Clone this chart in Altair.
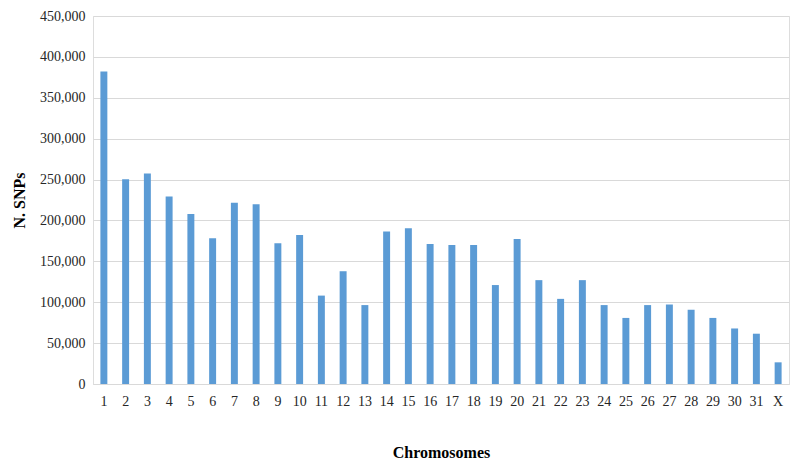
import altair as alt
import pandas as pd

chromosomes = [str(i) for i in range(1, 32)] + ["X"]
snps = [382000, 250500, 257300, 229200, 207900, 178100, 221500, 219900, 172000, 182200,
        108100, 137900, 96500, 186500, 190600, 171300, 170100, 170100, 121000, 177300,
        127000, 104100, 127000, 96500, 80800, 96500, 97200, 90800, 80800, 67900,
        61500, 26500]

df = pd.DataFrame({"chrom": chromosomes, "snps": snps})

font = "Liberation Serif"

chart = alt.Chart(df).mark_bar(color="#5B9BD5").encode(
    x=alt.X("chrom:N", sort=chromosomes,
            scale=alt.Scale(paddingInner=0.68, paddingOuter=0.34),
            axis=alt.Axis(title="Chromosomes", labelAngle=0, ticks=False,
                          domainColor="#D9D9D9", labelPadding=10, titlePadding=36,
                          labelFontSize=14, titleFontSize=16, labelFont=font,
                          titleFont=font, titleFontWeight="bold",
                          labelColor="#262626", titleColor="#000000")),
    y=alt.Y("snps:Q", scale=alt.Scale(domain=[0, 450000]),
            axis=alt.Axis(title="N. SNPs", values=list(range(0, 450001, 50000)),
                          format=",d", domain=False, ticks=False,
                          gridColor="#D9D9D9", labelPadding=8, titlePadding=12,
                          labelFontSize=14, titleFontSize=16, labelFont=font,
                          titleFont=font, titleFontWeight="bold",
                          labelColor="#262626", titleColor="#000000")),
).properties(
    width=696, height=368,
    autosize=alt.AutoSizeParams(type="none"),
    padding={"left": 85, "top": 8, "right": 3, "bottom": 80},
).configure_view(stroke=None).configure(background="white")

chart.save("out.html", embed_options={"renderer": "svg", "actions": False})
